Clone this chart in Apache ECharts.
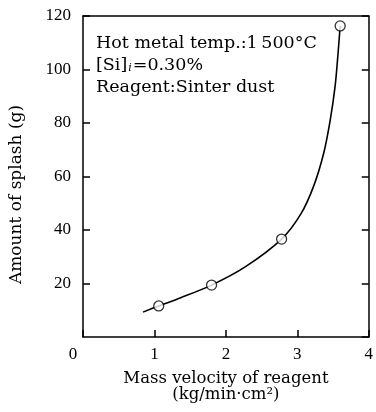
<!DOCTYPE html>
<html>
<head>
<meta charset="utf-8">
<script src="https://cdn.jsdelivr.net/npm/echarts@6/dist/echarts.min.js"></script>
<style>
  html, body { margin: 0; padding: 0; background: #fff; }
  #chart { width: 376px; height: 412px; }
</style>
</head>
<body>
<div id="chart"></div>
<script>
// measured points (open circles)
const measured = [[1.06, 11.6], [1.80, 19.4], [2.78, 36.6], [3.60, 116.3]];
// fitted curve
const curve = [
  [0.84, 9.3], [1.06, 11.6], [1.36, 14.6], [1.80, 19.4], [2.27, 26.2],
  [2.78, 36.6], [3.05, 46], [3.23, 56.5], [3.37, 68.8], [3.46, 81],
  [3.53, 94], [3.57, 106], [3.60, 116.3]
];
const xTicks = [0, 1, 2, 3, 4];
const yTicks = [20, 40, 60, 80, 100, 120];

const font = 'Liberation Serif';
const font2 = 'DejaVu Serif';
const chart = echarts.init(document.getElementById('chart'));

const lineStyle = { color: '#000', width: 1.5 };

const option = {
  animation: false,
  grid: { left: 80, right: 1, top: 16, bottom: 75 },
  xAxis: [
    {
      type: 'value', min: 0, max: 4, interval: 1,
      axisLine: { onZero: false, lineStyle },
      axisTick: { inside: true, length: 7, lineStyle },
      axisLabel: {
        color: '#000', fontFamily: font, fontSize: 17, margin: 9,
        formatter: v => v === 0 ? '{z|0}' : (xTicks.includes(v) ? String(v) : ''),
        rich: { z: { fontFamily: font, fontSize: 17, color: '#000', padding: [0, 20, 0, 0] } }
      },
      splitLine: { show: false },
      name: 'Mass velocity of reagent\n(kg/min\u00b7cm\u00b2)',
      nameLocation: 'middle', nameGap: 34,
      nameTextStyle: { color: '#000', fontFamily: font2, fontSize: 16.5, lineHeight: 16 }
    },
    {
      type: 'value', min: 0, max: 4, position: 'top',
      axisLine: { show: true, onZero: false, lineStyle },
      axisTick: { show: false }, axisLabel: { show: false }, splitLine: { show: false }
    }
  ],
  yAxis: [
    {
      type: 'value', min: 0, max: 120, interval: 20,
      axisLine: { show: true, onZero: false, lineStyle },
      axisTick: { inside: true, length: 7, lineStyle },
      axisLabel: {
        color: '#000', fontFamily: font, fontSize: 17, margin: 12,
        showMinLabel: false,
        formatter: v => yTicks.includes(v) ? String(v) : ''
      },
      splitLine: { show: false },
      name: 'Amount of splash (g)',
      nameLocation: 'middle', nameGap: 58, nameRotate: 90,
      nameTextStyle: { color: '#000', fontFamily: font2, fontSize: 17, padding: [0, 0, 0, -36] }
    },
    {
      type: 'value', min: 0, max: 120, interval: 20, position: 'right',
      axisLine: { show: true, onZero: false, lineStyle },
      axisTick: { inside: true, length: 7, lineStyle },
      axisLabel: { show: false }, splitLine: { show: false }
    }
  ],
  graphic: [
    {
      type: 'text', left: 96, top: 32,
      style: {
        text: 'Hot metal temp.:1\u2009500\u00b0C\n[Si]{sub|i}=0.30%\nReagent:Sinter dust',
        fontFamily: font2, fontSize: 17.5, lineHeight: 22, fill: '#000',
        rich: { sub: { fontFamily: font2, fontSize: 11, fontStyle: 'italic', padding: [7, 1, 0, 1], fill: '#000' } }
      }
    }
  ],
  series: [
    {
      type: 'line', data: curve, smooth: 0.3, showSymbol: false,
      lineStyle: { color: '#000', width: 1.6 }, z: 2
    },
    {
      type: 'scatter', data: measured, symbol: 'circle', symbolSize: 10,
      itemStyle: { color: '#fff', borderColor: '#000', borderWidth: 1.3 }, z: 3
    }
  ]
};

chart.setOption(option);
</script>
</body>
</html>
